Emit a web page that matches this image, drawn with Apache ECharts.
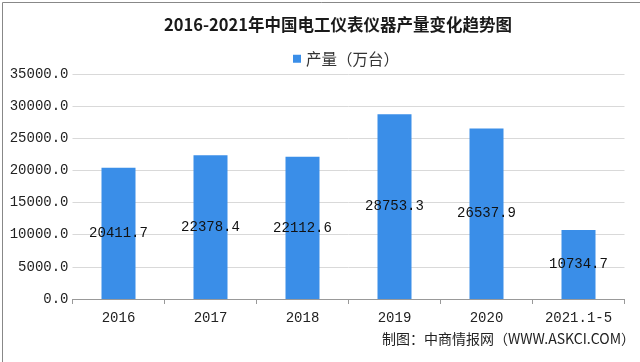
<!DOCTYPE html>
<html><head><meta charset="utf-8">
<script src="https://cdn.jsdelivr.net/npm/echarts@6/dist/echarts.min.js"></script>
<style>html,body{margin:0;padding:0;background:#fff}#c{width:640px;height:362px}</style>
</head><body><div id="c"></div>
<script>
const categories = ['2016','2017','2018','2019','2020','2021.1-5'];
const production = [20411.7, 22378.4, 22112.6, 28753.3, 26537.9, 10734.7];
const seriesName = '产量（万台）';
const titleText = '2016-2021年中国电工仪表仪器产量变化趋势图';
const sourceText = '制图：中商情报网（WWW.ASKCI.COM）';

const chart = echarts.init(document.getElementById('c'), null, {renderer:'canvas'});
const mono = '"Liberation Mono", "DejaVu Sans Mono", monospace';
chart.setOption({
  animation: false,
  backgroundColor: '#fff',
  title: {
    text: titleText, left: 159, top: 11,
    textStyle: {fontFamily: '"Noto Sans CJK SC"', fontSize: 16.5, fontWeight: 'bold', color: '#1a1a1a'}
  },
  legend: {
    data: [seriesName], top: 46, left: 288, itemWidth: 8, itemHeight: 8, itemGap: 2,
    icon: 'rect',
    textStyle: {fontFamily: '"Noto Sans CJK SC"', fontSize: 15.5, color: '#333'}
  },
  grid: {left: 72.5, right: 15.5, top: 74, bottom: 63, containLabel: false},
  xAxis: {
    type: 'category', data: categories,
    axisLine: {lineStyle: {color: '#999'}},
    axisTick: {show: true, length: 5, lineStyle: {color: '#999'}},
    axisLabel: {fontFamily: mono, fontSize: 14, color: '#222', margin: 12}
  },
  yAxis: {
    type: 'value', min: 0, max: 35000, interval: 5000,
    axisLine: {show: false}, axisTick: {show: false},
    splitLine: {lineStyle: {color: '#d9d9d9'}},
    axisLabel: {fontFamily: mono, fontSize: 14, color: '#222', margin: 4,
      formatter: v => v.toFixed(1)}
  },
  series: [{
    name: seriesName, type: 'bar', data: production, barWidth: 34,
    itemStyle: {color: '#3a8ee8'},
    label: {show: true, position: 'inside', fontFamily: mono, fontSize: 14, color: '#111',
      formatter: p => p.value.toFixed(1)}
  }],
  graphic: [
    {type: 'text', right: 5, top: 332, style: {text: sourceText, fontFamily: '"Noto Sans CJK SC"', fontSize: 14, fill: '#222'}},
    {type: 'rect', left: 0, top: 0, shape: {width: 639, height: 361}, style: {fill: 'none', stroke: '#888', lineWidth: 1}, silent: true}
  ]
});
</script></body></html>
